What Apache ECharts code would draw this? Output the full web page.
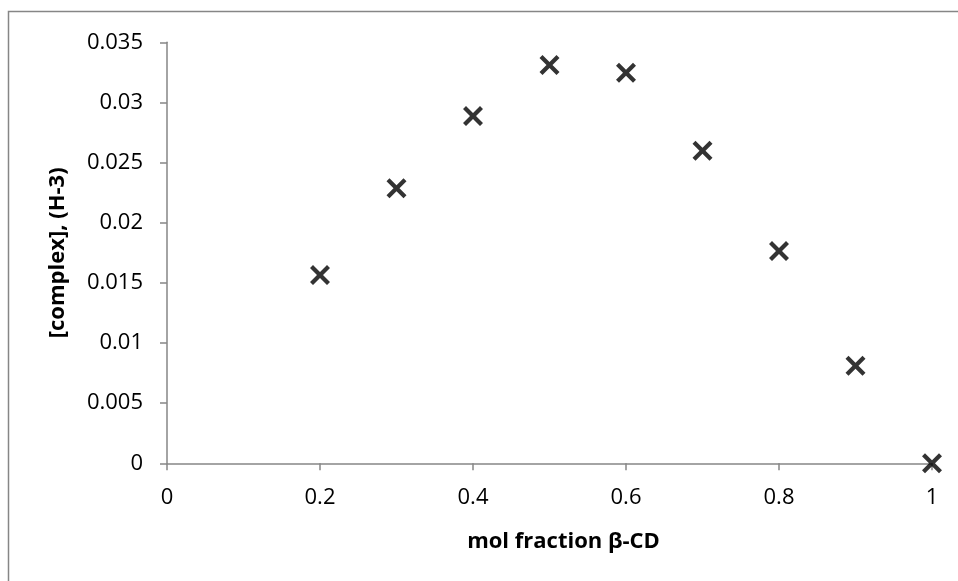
<!DOCTYPE html>
<html>
<head>
<meta charset="utf-8">
<script src="https://cdn.jsdelivr.net/npm/echarts@6/dist/echarts.min.js"></script>
<style>html,body{margin:0;padding:0;background:#fff}#c{width:958px;height:581px}</style>
</head>
<body>
<div id="c"></div>
<script>
const molFraction = [0.2, 0.3, 0.4, 0.5, 0.6, 0.7, 0.8, 0.9, 1.0];
const complexH3 = [0.01565, 0.02286, 0.02888, 0.03311, 0.03247, 0.02599, 0.01765, 0.0081, 0];
const xTicks = [0, 0.2, 0.4, 0.6, 0.8, 1];
const yTicks = [0, 0.005, 0.01, 0.015, 0.02, 0.025, 0.03, 0.035];
const xTitle = 'mol fraction β-CD';
const yTitle = '[complex], (H-3)';

const xPath = 'path://M0,3L3,0L10,7L17,0L20,3L13,10L20,17L17,20L10,13L3,20L0,17L7,10Z';
const font = 'Open Sans, Liberation Sans, sans-serif';
const axisGray = '#868686';

const chart = echarts.init(document.getElementById('c'), null, {renderer: 'canvas'});
chart.setOption({
  animation: false,
  backgroundColor: '#fff',
  graphic: [{
    type: 'rect', silent: true,
    shape: {x: 8.5, y: 11.5, width: 960, height: 600},
    style: {fill: 'none', stroke: '#868686', lineWidth: 1.5}
  }],
  grid: {left: 167, right: 26, top: 42.3, bottom: 117.7},
  xAxis: {
    type: 'value', min: 0, max: 1, interval: 0.2,
    name: xTitle, nameLocation: 'middle', nameGap: 67,
    nameTextStyle: {fontFamily: font, fontSize: 22, fontWeight: 'bold', color: '#000', padding: [0, 0, 0, 28]},
    axisLine: {show: true, onZero: false, lineStyle: {color: axisGray, width: 1.5}},
    axisTick: {show: true, inside: false, length: 7, lineStyle: {color: axisGray, width: 1.5}},
    axisLabel: {fontFamily: font, fontSize: 22, color: '#000', margin: 23,
      formatter: v => String(+v.toFixed(4))},
    splitLine: {show: false}
  },
  yAxis: {
    type: 'value', min: 0, max: 0.035, interval: 0.005,
    name: yTitle, nameLocation: 'middle', nameGap: 98, nameRotate: 90,
    nameTextStyle: {fontFamily: font, fontSize: 22, fontWeight: 'bold', color: '#000'},
    axisLine: {show: true, lineStyle: {color: axisGray, width: 1.5}},
    axisTick: {show: true, inside: false, length: 7, lineStyle: {color: axisGray, width: 1.5}},
    axisLabel: {fontFamily: font, fontSize: 22, color: '#000', margin: 24,
      formatter: v => String(+v.toFixed(4))},
    splitLine: {show: false}
  },
  series: [{
    type: 'scatter',
    data: molFraction.map((x, i) => [x, complexH3[i]]),
    symbol: xPath,
    symbolSize: 20,
    itemStyle: {color: '#000'}
  }]
});
</script>
</body>
</html>
